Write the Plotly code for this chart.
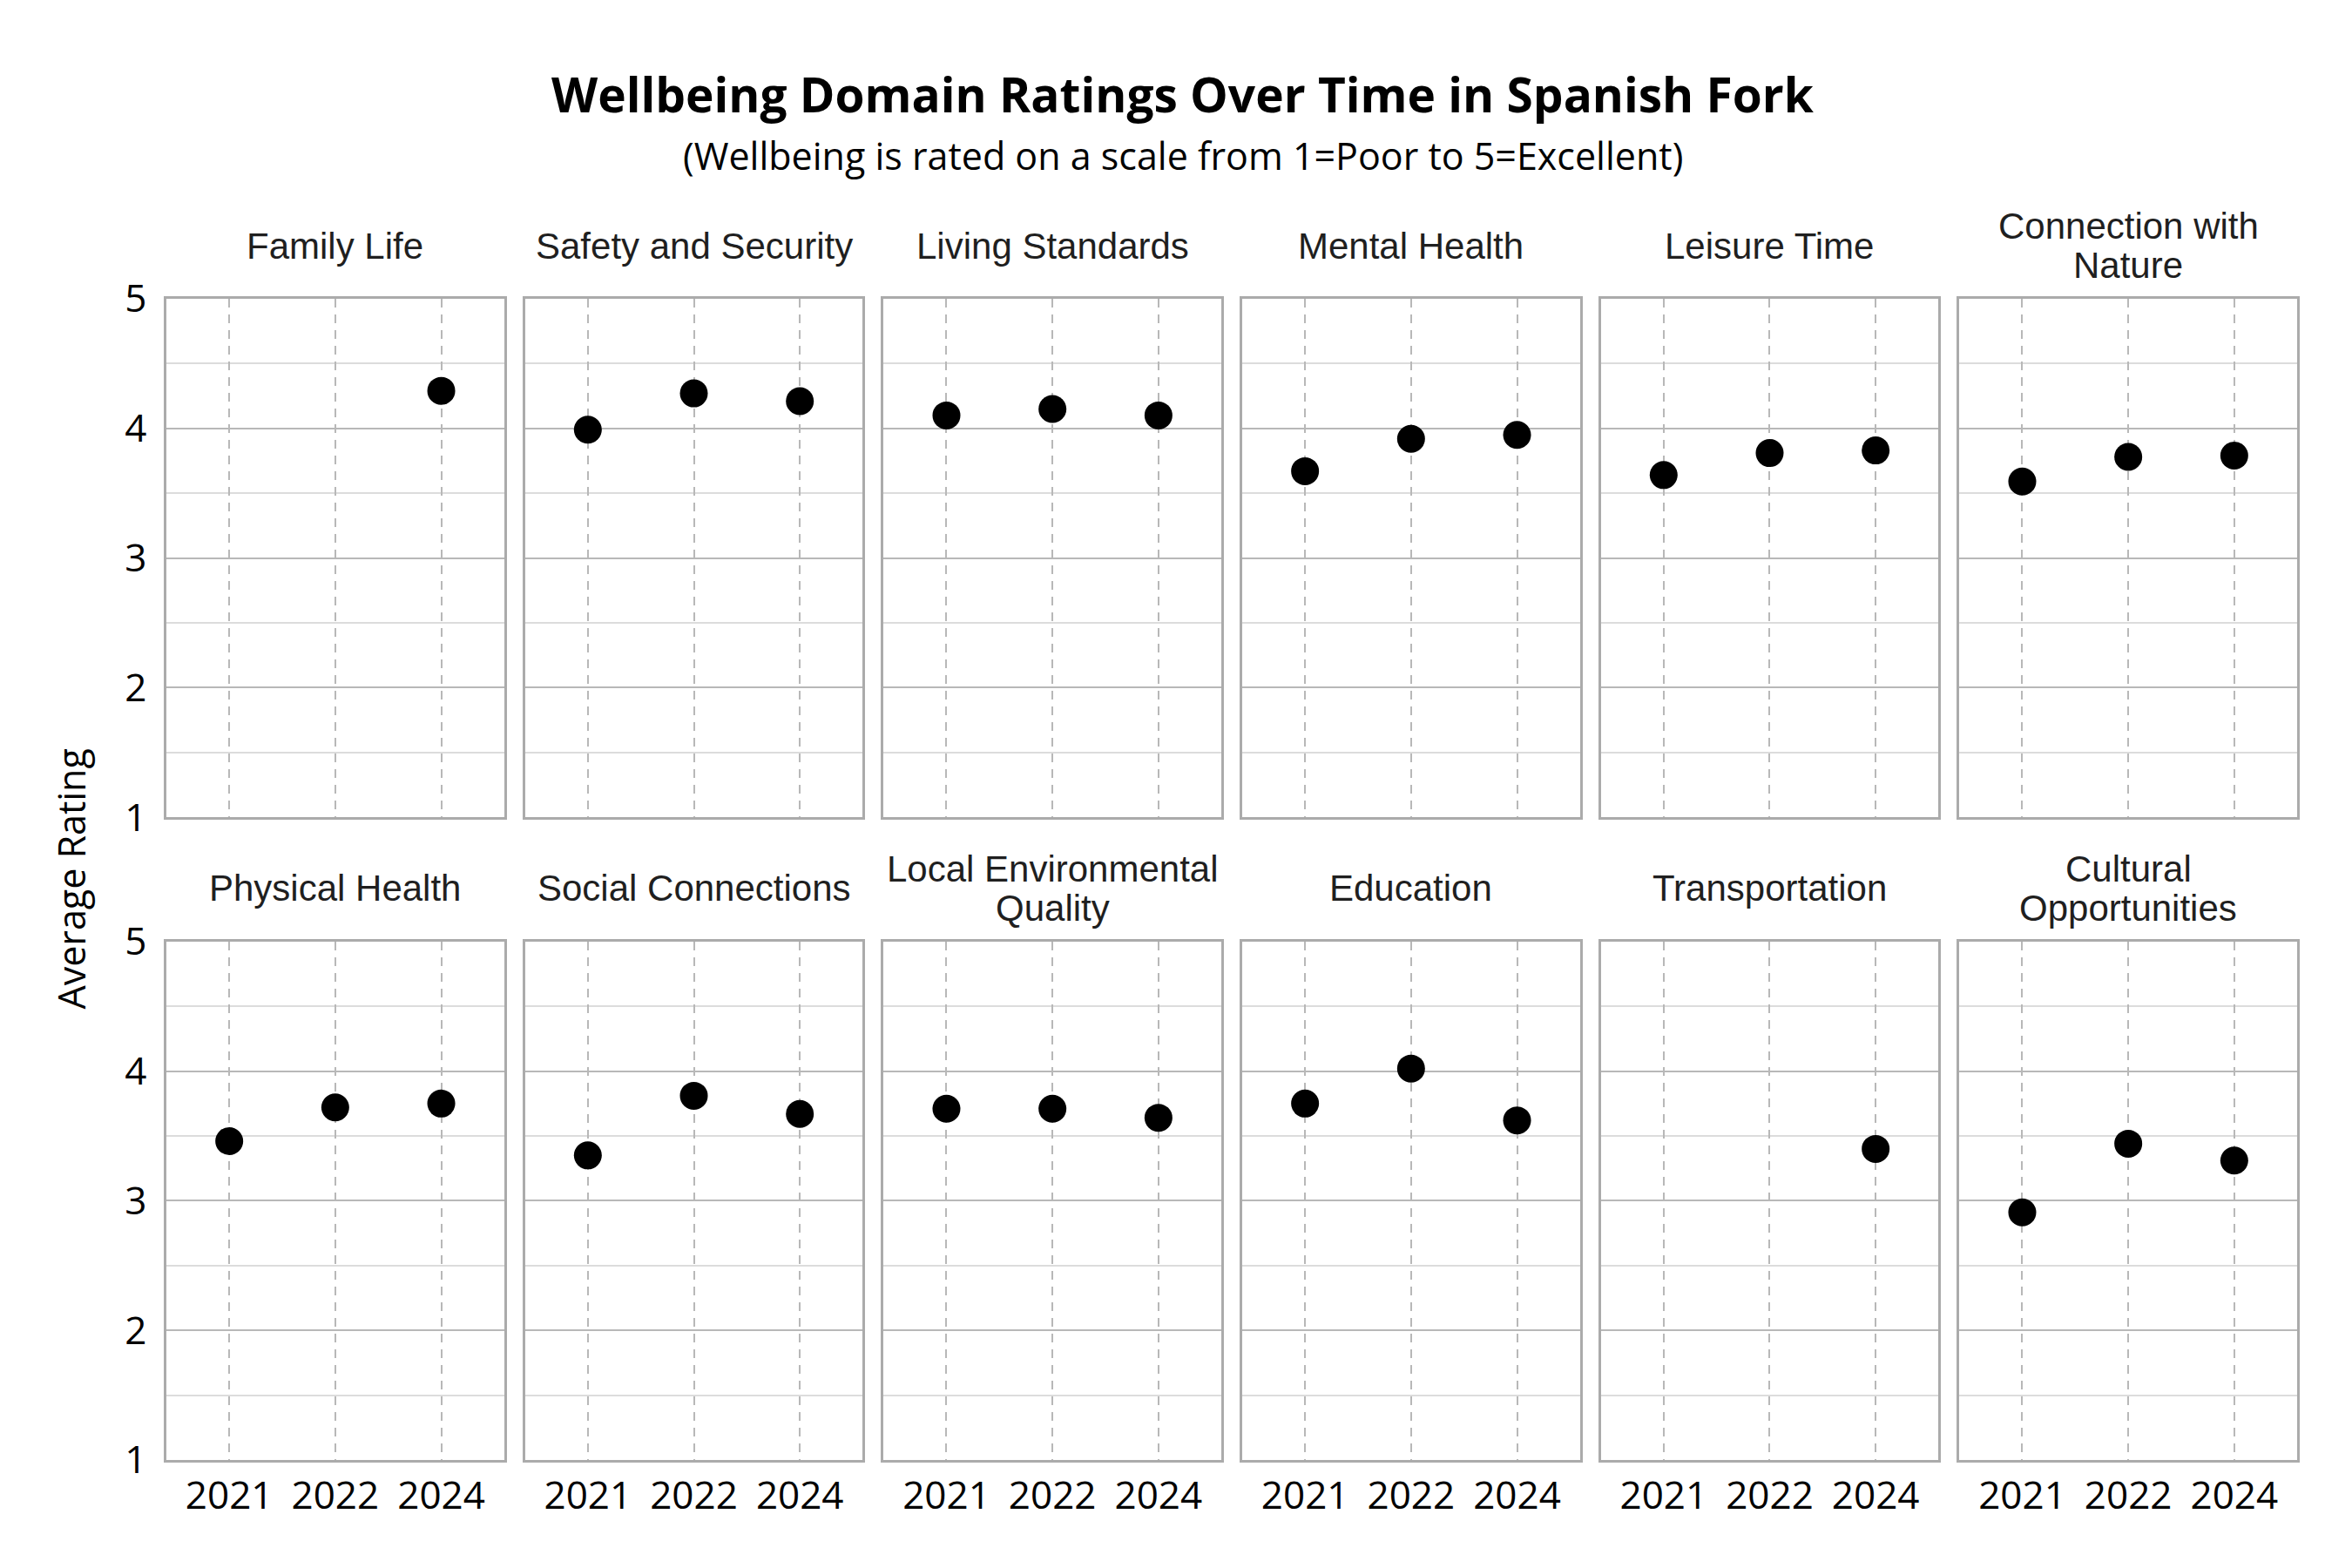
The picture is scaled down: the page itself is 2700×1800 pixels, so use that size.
import plotly.graph_objects as go
from plotly.subplots import make_subplots

# survey years shown on every panel
years = ['2021', '2022', '2024']

# panel titles, in reading order (row 1 then row 2)
domains = ['Family Life', 'Safety and Security', 'Living Standards', 'Mental Health',
           'Leisure Time', 'Connection with\nNature',
           'Physical Health', 'Social Connections', 'Local Environmental\nQuality',
           'Education', 'Transportation', 'Cultural\nOpportunities']

# average rating per domain for 2021, 2022, 2024 (None = not asked that year)
family_life = [None, None, 4.29]
safety_security = [3.99, 4.27, 4.21]
living_standards = [4.10, 4.15, 4.10]
mental_health = [3.67, 3.92, 3.95]
leisure_time = [3.64, 3.81, 3.83]
nature = [3.59, 3.78, 3.79]
physical_health = [3.46, 3.72, 3.75]
social_connections = [3.35, 3.81, 3.67]
local_environment = [3.71, 3.71, 3.64]
education = [3.75, 4.02, 3.62]
transportation = [None, None, 3.40]
cultural = [2.91, 3.44, 3.31]

ratings = [family_life, safety_security, living_standards, mental_health, leisure_time, nature,
           physical_health, social_connections, local_environment, education, transportation, cultural]

y_ticks = [1, 2, 3, 4, 5]
y_minor = [1.5, 2.5, 3.5, 4.5]

W, H = 2700, 1800
M_L, M_R, M_T, M_B = 183, 71, 335, 132
OFF = 8  # page margin of the browser

fig = make_subplots(rows=2, cols=6, horizontal_spacing=0.0098, vertical_spacing=0.107)

for i, (name, vals) in enumerate(zip(domains, ratings)):
    r, c = i // 6 + 1, i % 6 + 1
    fig.add_trace(go.Scatter(x=years, y=vals, mode='markers',
                             marker=dict(color='black', size=32),
                             showlegend=False, hoverinfo='x+y'),
                  row=r, col=c)

    # panel title, one annotation per line so the lines sit close together
    lines = name.split('\n')
    n = len(lines)
    suffix = '' if i == 0 else str(i + 1)
    for k, line in enumerate(lines):
        fig.add_annotation(text=line, xref=f'x{suffix} domain', yref=f'y{suffix} domain',
                           x=0.5, y=1, xanchor='center', yanchor='middle',
                           yshift=61 + (n - 1 - 2 * k) * 22.5, showarrow=False,
                           font=dict(family='Liberation Sans, Arial', size=42, color='#1f1f1f'))

fig.update_xaxes(type='category', categoryorder='array', categoryarray=years,
                 range=[-0.593, 2.593], showgrid=True, gridcolor='#b8b8b8', gridwidth=2,
                 griddash='10px,8px', showline=True, mirror=True, linecolor='#ababab',
                 linewidth=2.5, ticks='', zeroline=False,
                 tickfont=dict(family='Open Sans', size=44, color='black'))
fig.update_xaxes(showticklabels=False, row=1)

fig.update_yaxes(range=[1, 5], tickvals=y_ticks, showgrid=True, gridcolor='#b8b8b8',
                 gridwidth=2, showline=True, mirror=True, linecolor='#ababab', linewidth=2.5,
                 zeroline=False, ticks='', ticklabelstandoff=11,
                 minor=dict(tickvals=y_minor, showgrid=True, gridcolor='#dcdcdc', gridwidth=1.5),
                 tickfont=dict(family='Open Sans', size=44, color='black'))
for c in range(2, 7):
    fig.update_yaxes(showticklabels=False, col=c)

# main title, subtitle and shared y label
title_x = (W / 2 - M_L) / (W - M_L - M_R)
fig.add_annotation(text='<b>Wellbeing Domain Ratings Over Time in Spanish Fork</b>',
                   xref='paper', yref='paper', x=title_x, y=1,
                   yshift=M_T - (107 - OFF), xanchor='center', yanchor='middle', showarrow=False,
                   font=dict(family='Open Sans', size=55, color='black'))
fig.add_annotation(text='(Wellbeing is rated on a scale from 1=Poor to 5=Excellent)',
                   xref='paper', yref='paper', x=title_x, y=1,
                   yshift=M_T - (178 - OFF), xanchor='center', yanchor='middle', showarrow=False,
                   font=dict(family='Open Sans', size=43, color='black'))
fig.add_annotation(text='Average Rating', xref='paper', yref='paper', x=0, y=0.5,
                   xshift=-(M_L - (81 - OFF)), xanchor='center', yanchor='middle', textangle=-90,
                   showarrow=False, font=dict(family='Open Sans', size=43, color='black'))

fig.update_layout(width=W, height=H, plot_bgcolor='white', paper_bgcolor='white',
                  margin=dict(l=M_L, r=M_R, t=M_T, b=M_B))

fig.write_html('out.html')
